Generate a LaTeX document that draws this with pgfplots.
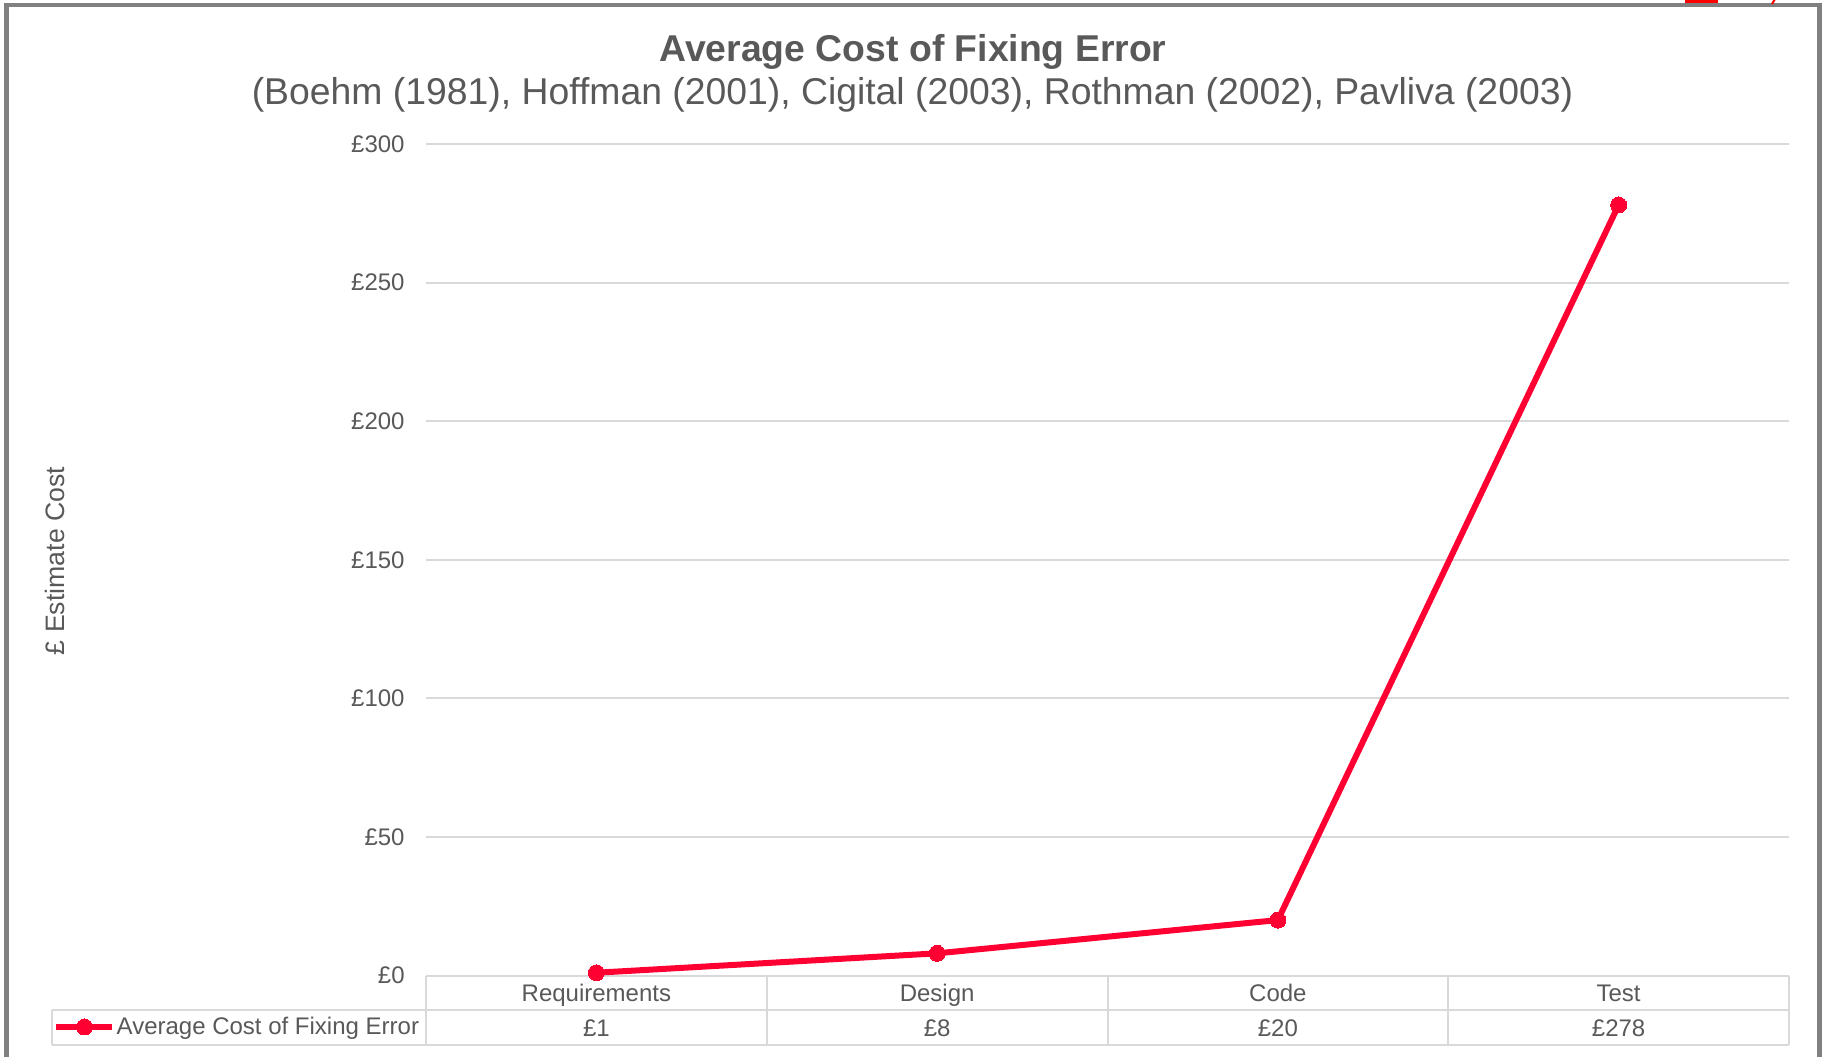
\documentclass[border=0pt]{standalone}
\usepackage{pgfplots}
\pgfplotsset{compat=1.18}
\usepackage{fontspec}
\setmainfont{Liberation Sans}
\definecolor{txt}{HTML}{595959}
\definecolor{gridc}{HTML}{D9D9D9}
\definecolor{linec}{HTML}{FF0033}
\definecolor{framec}{HTML}{808080}
\begin{document}
\begin{tikzpicture}
\useasboundingbox (0,0) rectangle (912.5pt,528pt);
\fill[white] (0,0) rectangle (912.5pt,528pt);
% outer chart frame
\draw[framec, line width=2.25pt] (3.25pt,-5pt) -- (3.25pt,525.5pt) -- (909.75pt,525.5pt) -- (909.75pt,-5pt);
\fill[red] (842.5pt,526.3pt) rectangle (859pt,528.5pt);
\draw[red, line width=1pt] (886pt,526pt) -- (887.5pt,528.5pt);
% titles
\node[anchor=base, font=\bfseries\fontsize{18.67pt}{22pt}\selectfont, text=txt] at (456.5pt,497.25pt) {Average Cost of Fixing Error};
\node[anchor=base, font=\fontsize{18.67pt}{22pt}\selectfont, text=txt] at (456.25pt,475.5pt) {(Boehm (1981), Hoffman (2001), Cigital (2003), Rothman (2002), Pavliva (2003)};
% y axis title
\node[rotate=90, font=\fontsize{13.33pt}{16pt}\selectfont, text=txt] at (27.5pt,247.5pt) {£ Estimate Cost};
% data table grid
\begin{scope}[gridc, line width=1pt]
\draw (26pt,23pt) -- (894.5pt,23pt);
\draw (26pt,5.5pt) -- (894.5pt,5.5pt);
\draw (26pt,23pt) -- (26pt,5.5pt);
\foreach \xx in {213,383.375,553.75,724.125,894.5} {\draw (\xx pt,40.25pt) -- (\xx pt,5.5pt);}
\end{scope}
\begin{axis}[
  at={(213pt,40.25pt)}, anchor=south west,
  scale only axis, width=681.5pt, height=415.75pt,
  xmin=-0.5, xmax=3.5, ymin=0, ymax=300,
  clip=false,
  axis line style={draw=none},
  tick style={draw=none},
  ymajorgrids, grid style={gridc, line width=1pt},
  ytick={0,50,100,150,200,250,300},
  yticklabels={£0,£50,£100,£150,£200,£250,£300},
  yticklabel style={font=\fontsize{12pt}{14pt}\selectfont, text=txt, inner sep=0pt, xshift=-10.5pt},
  xtick={0,1,2,3},
  xticklabels={Requirements,Design,Code,Test},
  xticklabel style={anchor=base, inner sep=0pt, yshift=-12.75pt, font=\fontsize{12pt}{14pt}\selectfont, text=txt},
  legend style={at={(-0.2733,-0.0619)}, anchor=west, draw=none, fill=none, inner sep=0pt, outer sep=0pt,
    font=\fontsize{12pt}{14pt}\selectfont, text=txt, column sep=0pt, nodes={inner xsep=0.6pt, inner ysep=0pt}},
  legend cell align=left,
  legend image code/.code={\draw[mark repeat=2, mark phase=2, #1] plot coordinates {(0pt,0pt) (14pt,0pt) (28pt,0pt)};},
]
\addplot[linec, line width=3pt, mark=*, mark size=4pt, mark options={solid, fill=linec, draw=linec, line width=0pt}]
  coordinates {(0,1) (1,8) (2,20) (3,278)};
\addlegendentry{Average Cost of Fixing Error}
\node[anchor=base, yshift=-30.25pt, font=\fontsize{12pt}{14pt}\selectfont, text=txt] at (axis cs:0,0) {£1};
\node[anchor=base, yshift=-30.25pt, font=\fontsize{12pt}{14pt}\selectfont, text=txt] at (axis cs:1,0) {£8};
\node[anchor=base, yshift=-30.25pt, font=\fontsize{12pt}{14pt}\selectfont, text=txt] at (axis cs:2,0) {£20};
\node[anchor=base, yshift=-30.25pt, font=\fontsize{12pt}{14pt}\selectfont, text=txt] at (axis cs:3,0) {£278};
\end{axis}
\end{tikzpicture}
\end{document}
